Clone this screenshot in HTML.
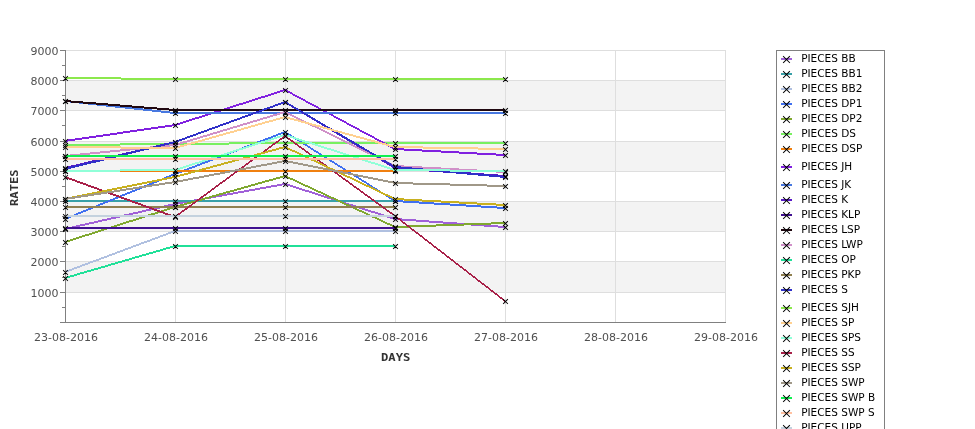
<!DOCTYPE html>
<html lang="en"><head><meta charset="utf-8"><title>Rates chart</title>
<style>
html,body{margin:0;padding:0;background:#fff;}
body{width:975px;height:429px;overflow:hidden;font-family:"DejaVu Sans","Liberation Sans",sans-serif;}
svg{display:block}
.tk{font:11px "DejaVu Sans","Liberation Sans",sans-serif;fill:#505050}
.lg{font:10.5px "DejaVu Sans","Liberation Sans",sans-serif;fill:#000}
.ax{font:bold 11px "DejaVu Sans Mono","Liberation Mono",monospace;fill:#333}
.mk{stroke:#000;stroke-width:1.05;fill:none;stroke-linecap:square}
</style></head><body>
<svg width="975" height="429" viewBox="0 0 975 429">
<rect width="975" height="429" fill="#fff"/>
<defs><clipPath id="pc"><rect x="66" y="40" width="660" height="290"/></clipPath></defs>
<rect x="65" y="80" width="661" height="30" fill="#f3f3f3"/>
<rect x="65" y="141" width="661" height="30" fill="#f3f3f3"/>
<rect x="65" y="201" width="661" height="30" fill="#f3f3f3"/>
<rect x="65" y="261" width="661" height="31" fill="#f3f3f3"/>
<g stroke="#dedede" stroke-width="1" shape-rendering="crispEdges">
<line x1="175.5" y1="50" x2="175.5" y2="322"/>
<line x1="285.5" y1="50" x2="285.5" y2="322"/>
<line x1="395.5" y1="50" x2="395.5" y2="322"/>
<line x1="505.5" y1="50" x2="505.5" y2="322"/>
<line x1="615.5" y1="50" x2="615.5" y2="322"/>
<line x1="725.5" y1="50" x2="725.5" y2="322"/>
<line x1="66" y1="292.5" x2="726" y2="292.5"/>
<line x1="66" y1="261.5" x2="726" y2="261.5"/>
<line x1="66" y1="231.5" x2="726" y2="231.5"/>
<line x1="66" y1="201.5" x2="726" y2="201.5"/>
<line x1="66" y1="171.5" x2="726" y2="171.5"/>
<line x1="66" y1="141.5" x2="726" y2="141.5"/>
<line x1="66" y1="110.5" x2="726" y2="110.5"/>
<line x1="66" y1="80.5" x2="726" y2="80.5"/>
<line x1="66" y1="50.5" x2="726" y2="50.5"/>
</g>
<g stroke="#808080" stroke-width="1" shape-rendering="crispEdges">
<line x1="65.5" y1="50" x2="65.5" y2="322"/>
<line x1="60" y1="322.5" x2="726" y2="322.5"/>
<line x1="60" y1="292.5" x2="65" y2="292.5"/>
<line x1="60" y1="261.5" x2="65" y2="261.5"/>
<line x1="60" y1="231.5" x2="65" y2="231.5"/>
<line x1="60" y1="201.5" x2="65" y2="201.5"/>
<line x1="60" y1="171.5" x2="65" y2="171.5"/>
<line x1="60" y1="141.5" x2="65" y2="141.5"/>
<line x1="60" y1="110.5" x2="65" y2="110.5"/>
<line x1="60" y1="80.5" x2="65" y2="80.5"/>
<line x1="60" y1="50.5" x2="65" y2="50.5"/>
<line x1="62" y1="307.5" x2="65" y2="307.5"/>
<line x1="62" y1="277.5" x2="65" y2="277.5"/>
<line x1="62" y1="246.5" x2="65" y2="246.5"/>
<line x1="62" y1="216.5" x2="65" y2="216.5"/>
<line x1="62" y1="186.5" x2="65" y2="186.5"/>
<line x1="62" y1="156.5" x2="65" y2="156.5"/>
<line x1="62" y1="125.5" x2="65" y2="125.5"/>
<line x1="62" y1="95.5" x2="65" y2="95.5"/>
<line x1="62" y1="65.5" x2="65" y2="65.5"/>
</g>
<g>
<polygon fill="#a060d8" clip-path="url(#pc)" shape-rendering="crispEdges" points="65,228 175,203 285,183 395,218 505,226 505,228 395,220 285,185 175,205 65,230"/>
<path class="mk" d="M63.5,227.5L67.5,231.5M63.5,231.5L67.5,227.5M173.5,202.5L177.5,206.5M173.5,206.5L177.5,202.5M283.5,182.5L287.5,186.5M283.5,186.5L287.5,182.5M393.5,217.5L397.5,221.5M393.5,221.5L397.5,217.5M503.5,225.5L507.5,229.5M503.5,229.5L507.5,225.5"/>
</g>
<g>
<polygon fill="#38a0a8" clip-path="url(#pc)" shape-rendering="crispEdges" points="65,200 175,200 285,200 395,200 395,202 285,202 175,202 65,202"/>
<path class="mk" d="M63.5,199.5L67.5,203.5M63.5,203.5L67.5,199.5M173.5,199.5L177.5,203.5M173.5,203.5L177.5,199.5M283.5,199.5L287.5,203.5M283.5,203.5L287.5,199.5M393.5,199.5L397.5,203.5M393.5,203.5L397.5,199.5"/>
</g>
<g>
<polygon fill="#b0c0e0" clip-path="url(#pc)" shape-rendering="crispEdges" points="65,271 175,230 285,230 395,230 395,232 285,232 175,232 65,273"/>
<path class="mk" d="M63.5,270.5L67.5,274.5M63.5,274.5L67.5,270.5M173.5,229.5L177.5,233.5M173.5,233.5L177.5,229.5M283.5,229.5L287.5,233.5M283.5,233.5L287.5,229.5M393.5,229.5L397.5,233.5M393.5,233.5L397.5,229.5"/>
</g>
<g>
<polygon fill="#4070f0" clip-path="url(#pc)" shape-rendering="crispEdges" points="65,218 175,173 285,131 395,200 505,207 505,209 395,202 285,133 175,175 65,220"/>
<path class="mk" d="M63.5,217.5L67.5,221.5M63.5,221.5L67.5,217.5M173.5,172.5L177.5,176.5M173.5,176.5L177.5,172.5M283.5,130.5L287.5,134.5M283.5,134.5L287.5,130.5M393.5,199.5L397.5,203.5M393.5,203.5L397.5,199.5M503.5,206.5L507.5,210.5M503.5,210.5L507.5,206.5"/>
</g>
<g>
<polygon fill="#80a830" clip-path="url(#pc)" shape-rendering="crispEdges" points="65,241 175,206 285,175 395,226 505,222 505,224 395,228 285,177 175,208 65,243"/>
<path class="mk" d="M63.5,240.5L67.5,244.5M63.5,244.5L67.5,240.5M173.5,205.5L177.5,209.5M173.5,209.5L177.5,205.5M283.5,174.5L287.5,178.5M283.5,178.5L287.5,174.5M393.5,225.5L397.5,229.5M393.5,229.5L397.5,225.5M503.5,221.5L507.5,225.5M503.5,225.5L507.5,221.5"/>
</g>
<g>
<polygon fill="#78f060" clip-path="url(#pc)" shape-rendering="crispEdges" points="65,144 175,143 285,142 395,142 505,142 505,144 395,144 285,144 175,145 65,146"/>
<path class="mk" d="M63.5,143.5L67.5,147.5M63.5,147.5L67.5,143.5M173.5,142.5L177.5,146.5M173.5,146.5L177.5,142.5M283.5,141.5L287.5,145.5M283.5,145.5L287.5,141.5M393.5,141.5L397.5,145.5M393.5,145.5L397.5,141.5M503.5,141.5L507.5,145.5M503.5,145.5L507.5,141.5"/>
</g>
<g>
<polygon fill="#f08010" clip-path="url(#pc)" shape-rendering="crispEdges" points="65,170 175,170 285,170 395,170 395,172 285,172 175,172 65,172"/>
<path class="mk" d="M63.5,169.5L67.5,173.5M63.5,173.5L67.5,169.5M173.5,169.5L177.5,173.5M173.5,173.5L177.5,169.5M283.5,169.5L287.5,173.5M283.5,173.5L287.5,169.5M393.5,169.5L397.5,173.5M393.5,173.5L397.5,169.5"/>
</g>
<g>
<polygon fill="#8020e0" clip-path="url(#pc)" shape-rendering="crispEdges" points="65,140 175,124 285,89 395,148 505,154 505,156 395,150 285,91 175,126 65,142"/>
<path class="mk" d="M63.5,139.5L67.5,143.5M63.5,143.5L67.5,139.5M173.5,123.5L177.5,127.5M173.5,127.5L177.5,123.5M283.5,88.5L287.5,92.5M283.5,92.5L287.5,88.5M393.5,147.5L397.5,151.5M393.5,151.5L397.5,147.5M503.5,153.5L507.5,157.5M503.5,157.5L507.5,153.5"/>
</g>
<g>
<polygon fill="#4878e0" clip-path="url(#pc)" shape-rendering="crispEdges" points="65,100 175,112 285,112 395,112 505,112 505,114 395,114 285,114 175,114 65,102"/>
<path class="mk" d="M63.5,99.5L67.5,103.5M63.5,103.5L67.5,99.5M173.5,111.5L177.5,115.5M173.5,115.5L177.5,111.5M283.5,111.5L287.5,115.5M283.5,115.5L287.5,111.5M393.5,111.5L397.5,115.5M393.5,115.5L397.5,111.5M503.5,111.5L507.5,115.5M503.5,115.5L507.5,111.5"/>
</g>
<g>
<polygon fill="#5818c8" clip-path="url(#pc)" shape-rendering="crispEdges" points="65,167 175,141 285,101 395,167 505,175 505,177 395,169 285,103 175,143 65,169"/>
<path class="mk" d="M63.5,166.5L67.5,170.5M63.5,170.5L67.5,166.5M173.5,140.5L177.5,144.5M173.5,144.5L177.5,140.5M283.5,100.5L287.5,104.5M283.5,104.5L287.5,100.5M393.5,166.5L397.5,170.5M393.5,170.5L397.5,166.5M503.5,174.5L507.5,178.5M503.5,178.5L507.5,174.5"/>
</g>
<g>
<polygon fill="#401090" clip-path="url(#pc)" shape-rendering="crispEdges" points="65,227 175,227 285,227 395,227 395,229 285,229 175,229 65,229"/>
<path class="mk" d="M63.5,226.5L67.5,230.5M63.5,230.5L67.5,226.5M173.5,226.5L177.5,230.5M173.5,230.5L177.5,226.5M283.5,226.5L287.5,230.5M283.5,230.5L287.5,226.5M393.5,226.5L397.5,230.5M393.5,230.5L397.5,226.5"/>
</g>
<g>
<polygon fill="#200810" clip-path="url(#pc)" shape-rendering="crispEdges" points="65,100 175,109 285,109 395,109 505,109 505,111 395,111 285,111 175,111 65,102"/>
<path class="mk" d="M63.5,99.5L67.5,103.5M63.5,103.5L67.5,99.5M173.5,108.5L177.5,112.5M173.5,112.5L177.5,108.5M283.5,108.5L287.5,112.5M283.5,112.5L287.5,108.5M393.5,108.5L397.5,112.5M393.5,112.5L397.5,108.5M503.5,108.5L507.5,112.5M503.5,112.5L507.5,108.5"/>
</g>
<g>
<polygon fill="#d090c8" clip-path="url(#pc)" shape-rendering="crispEdges" points="65,155 175,144 285,111 395,165 505,171 505,173 395,167 285,113 175,146 65,157"/>
<path class="mk" d="M63.5,154.5L67.5,158.5M63.5,158.5L67.5,154.5M173.5,143.5L177.5,147.5M173.5,147.5L177.5,143.5M283.5,110.5L287.5,114.5M283.5,114.5L287.5,110.5M393.5,164.5L397.5,168.5M393.5,168.5L397.5,164.5M503.5,170.5L507.5,174.5M503.5,174.5L507.5,170.5"/>
</g>
<g>
<polygon fill="#20e098" clip-path="url(#pc)" shape-rendering="crispEdges" points="65,277 175,245 285,245 395,245 395,247 285,247 175,247 65,279"/>
<path class="mk" d="M63.5,276.5L67.5,280.5M63.5,280.5L67.5,276.5M173.5,244.5L177.5,248.5M173.5,248.5L177.5,244.5M283.5,244.5L287.5,248.5M283.5,248.5L287.5,244.5M393.5,244.5L397.5,248.5M393.5,248.5L397.5,244.5"/>
</g>
<g>
<polygon fill="#908050" clip-path="url(#pc)" shape-rendering="crispEdges" points="65,206 175,206 285,206 395,206 395,208 285,208 175,208 65,208"/>
<path class="mk" d="M63.5,205.5L67.5,209.5M63.5,209.5L67.5,205.5M173.5,205.5L177.5,209.5M173.5,209.5L177.5,205.5M283.5,205.5L287.5,209.5M283.5,209.5L287.5,205.5M393.5,205.5L397.5,209.5M393.5,209.5L397.5,205.5"/>
</g>
<g>
<polygon fill="#3030c8" clip-path="url(#pc)" shape-rendering="crispEdges" points="65,168 175,141 285,101 395,166 505,176 505,178 395,168 285,103 175,143 65,170"/>
<path class="mk" d="M63.5,167.5L67.5,171.5M63.5,171.5L67.5,167.5M173.5,140.5L177.5,144.5M173.5,144.5L177.5,140.5M283.5,100.5L287.5,104.5M283.5,104.5L287.5,100.5M393.5,165.5L397.5,169.5M393.5,169.5L397.5,165.5M503.5,175.5L507.5,179.5M503.5,179.5L507.5,175.5"/>
</g>
<g>
<polygon fill="#8ce84c" clip-path="url(#pc)" shape-rendering="crispEdges" points="65,77 175,78 285,78 395,78 505,78 505,80 395,80 285,80 175,80 65,79"/>
<path class="mk" d="M63.5,76.5L67.5,80.5M63.5,80.5L67.5,76.5M173.5,77.5L177.5,81.5M173.5,81.5L177.5,77.5M283.5,77.5L287.5,81.5M283.5,81.5L287.5,77.5M393.5,77.5L397.5,81.5M393.5,81.5L397.5,77.5M503.5,77.5L507.5,81.5M503.5,81.5L507.5,77.5"/>
</g>
<g>
<polygon fill="#ffd090" clip-path="url(#pc)" shape-rendering="crispEdges" points="65,146 175,147 285,116 395,146 505,148 505,150 395,148 285,118 175,149 65,148"/>
<path class="mk" d="M63.5,145.5L67.5,149.5M63.5,149.5L67.5,145.5M173.5,146.5L177.5,150.5M173.5,150.5L177.5,146.5M283.5,115.5L287.5,119.5M283.5,119.5L287.5,115.5M393.5,145.5L397.5,149.5M393.5,149.5L397.5,145.5M503.5,147.5L507.5,151.5M503.5,151.5L507.5,147.5"/>
</g>
<g>
<polygon fill="#90ffd8" clip-path="url(#pc)" shape-rendering="crispEdges" points="65,170 175,169 285,134 395,169 505,170 505,172 395,171 285,136 175,171 65,172"/>
<path class="mk" d="M63.5,169.5L67.5,173.5M63.5,173.5L67.5,169.5M173.5,168.5L177.5,172.5M173.5,172.5L177.5,168.5M283.5,133.5L287.5,137.5M283.5,137.5L287.5,133.5M393.5,168.5L397.5,172.5M393.5,172.5L397.5,168.5M503.5,169.5L507.5,173.5M503.5,173.5L507.5,169.5"/>
</g>
<g>
<polygon fill="#a82048" clip-path="url(#pc)" shape-rendering="crispEdges" points="65,176 175,216 285,135 395,215 505,300 505,302 395,217 285,137 175,218 65,178"/>
<path class="mk" d="M63.5,175.5L67.5,179.5M63.5,179.5L67.5,175.5M173.5,215.5L177.5,219.5M173.5,219.5L177.5,215.5M283.5,134.5L287.5,138.5M283.5,138.5L287.5,134.5M393.5,214.5L397.5,218.5M393.5,218.5L397.5,214.5M503.5,299.5L507.5,303.5M503.5,303.5L507.5,299.5"/>
</g>
<g>
<polygon fill="#c8b020" clip-path="url(#pc)" shape-rendering="crispEdges" points="65,198 175,176 285,146 395,198 505,204 505,206 395,200 285,148 175,178 65,200"/>
<path class="mk" d="M63.5,197.5L67.5,201.5M63.5,201.5L67.5,197.5M173.5,175.5L177.5,179.5M173.5,179.5L177.5,175.5M283.5,145.5L287.5,149.5M283.5,149.5L287.5,145.5M393.5,197.5L397.5,201.5M393.5,201.5L397.5,197.5M503.5,203.5L507.5,207.5M503.5,207.5L507.5,203.5"/>
</g>
<g>
<polygon fill="#a09888" clip-path="url(#pc)" shape-rendering="crispEdges" points="65,198 175,181 285,160 395,182 505,185 505,187 395,184 285,162 175,183 65,200"/>
<path class="mk" d="M63.5,197.5L67.5,201.5M63.5,201.5L67.5,197.5M173.5,180.5L177.5,184.5M173.5,184.5L177.5,180.5M283.5,159.5L287.5,163.5M283.5,163.5L287.5,159.5M393.5,181.5L397.5,185.5M393.5,185.5L397.5,181.5M503.5,184.5L507.5,188.5M503.5,188.5L507.5,184.5"/>
</g>
<g>
<polygon fill="#10f050" clip-path="url(#pc)" shape-rendering="crispEdges" points="65,155 175,155 285,155 395,155 395,157 285,157 175,157 65,157"/>
<path class="mk" d="M63.5,154.5L67.5,158.5M63.5,158.5L67.5,154.5M173.5,154.5L177.5,158.5M173.5,158.5L177.5,154.5M283.5,154.5L287.5,158.5M283.5,158.5L287.5,154.5M393.5,154.5L397.5,158.5M393.5,158.5L397.5,154.5"/>
</g>
<g>
<polygon fill="#ffc0a0" clip-path="url(#pc)" shape-rendering="crispEdges" points="65,158 175,158 285,158 395,158 395,160 285,160 175,160 65,160"/>
<path class="mk" d="M63.5,157.5L67.5,161.5M63.5,161.5L67.5,157.5M173.5,157.5L177.5,161.5M173.5,161.5L177.5,157.5M283.5,157.5L287.5,161.5M283.5,161.5L287.5,157.5M393.5,157.5L397.5,161.5M393.5,161.5L397.5,157.5"/>
</g>
<g>
<polygon fill="#c4d2de" clip-path="url(#pc)" shape-rendering="crispEdges" points="65,215 175,215 285,215 395,215 395,217 285,217 175,217 65,217"/>
<path class="mk" d="M63.5,214.5L67.5,218.5M63.5,218.5L67.5,214.5M173.5,214.5L177.5,218.5M173.5,218.5L177.5,214.5M283.5,214.5L287.5,218.5M283.5,218.5L287.5,214.5M393.5,214.5L397.5,218.5M393.5,218.5L397.5,214.5"/>
</g>
<g class="tk" text-anchor="end">
<text x="58.5" y="297">1000</text>
<text x="58.5" y="266">2000</text>
<text x="58.5" y="236">3000</text>
<text x="58.5" y="206">4000</text>
<text x="58.5" y="176">5000</text>
<text x="58.5" y="146">6000</text>
<text x="58.5" y="115">7000</text>
<text x="58.5" y="85">8000</text>
<text x="58.5" y="55">9000</text>
</g>
<g class="tk" text-anchor="middle">
<text x="66" y="341">23-08-2016</text>
<text x="176" y="341">24-08-2016</text>
<text x="286" y="341">25-08-2016</text>
<text x="396" y="341">26-08-2016</text>
<text x="506" y="341">27-08-2016</text>
<text x="616" y="341">28-08-2016</text>
<text x="726" y="341">29-08-2016</text>
</g>
<text class="ax" x="381" y="361" textLength="29.4" lengthAdjust="spacingAndGlyphs">DAYS</text>
<text class="ax" transform="translate(18,206) rotate(-90)" textLength="36.6" lengthAdjust="spacingAndGlyphs">RATES</text>
<rect x="776.5" y="50.5" width="108" height="400" fill="#fff" stroke="#808080" stroke-width="1" shape-rendering="crispEdges"/>
<rect x="781" y="58" width="11" height="2" fill="#a060d8"/>
<path class="mk" d="M783.5,56.5L789.5,62.5M783.5,62.5L789.5,56.5"/>
<text class="lg" x="801.2" y="62">PIECES BB</text>
<rect x="781" y="73" width="11" height="2" fill="#38a0a8"/>
<path class="mk" d="M783.5,71.5L789.5,77.5M783.5,77.5L789.5,71.5"/>
<text class="lg" x="801.2" y="77">PIECES BB1</text>
<rect x="781" y="88" width="11" height="2" fill="#b0c0e0"/>
<path class="mk" d="M783.5,86.5L789.5,92.5M783.5,92.5L789.5,86.5"/>
<text class="lg" x="801.2" y="92">PIECES BB2</text>
<rect x="781" y="103" width="11" height="2" fill="#4070f0"/>
<path class="mk" d="M783.5,101.5L789.5,107.5M783.5,107.5L789.5,101.5"/>
<text class="lg" x="801.2" y="107">PIECES DP1</text>
<rect x="781" y="118" width="11" height="2" fill="#80a830"/>
<path class="mk" d="M783.5,116.5L789.5,122.5M783.5,122.5L789.5,116.5"/>
<text class="lg" x="801.2" y="122">PIECES DP2</text>
<rect x="781" y="133" width="11" height="2" fill="#78f060"/>
<path class="mk" d="M783.5,131.5L789.5,137.5M783.5,137.5L789.5,131.5"/>
<text class="lg" x="801.2" y="137">PIECES DS</text>
<rect x="781" y="148" width="11" height="2" fill="#f08010"/>
<path class="mk" d="M783.5,146.5L789.5,152.5M783.5,152.5L789.5,146.5"/>
<text class="lg" x="801.2" y="152">PIECES DSP</text>
<rect x="781" y="166" width="11" height="2" fill="#8020e0"/>
<path class="mk" d="M783.5,164.5L789.5,170.5M783.5,170.5L789.5,164.5"/>
<text class="lg" x="801.2" y="170">PIECES JH</text>
<rect x="781" y="184" width="11" height="2" fill="#4878e0"/>
<path class="mk" d="M783.5,182.5L789.5,188.5M783.5,188.5L789.5,182.5"/>
<text class="lg" x="801.2" y="188">PIECES JK</text>
<rect x="781" y="199" width="11" height="2" fill="#5818c8"/>
<path class="mk" d="M783.5,197.5L789.5,203.5M783.5,203.5L789.5,197.5"/>
<text class="lg" x="801.2" y="203">PIECES K</text>
<rect x="781" y="214" width="11" height="2" fill="#401090"/>
<path class="mk" d="M783.5,212.5L789.5,218.5M783.5,218.5L789.5,212.5"/>
<text class="lg" x="801.2" y="218">PIECES KLP</text>
<rect x="781" y="229" width="11" height="2" fill="#200810"/>
<path class="mk" d="M783.5,227.5L789.5,233.5M783.5,233.5L789.5,227.5"/>
<text class="lg" x="801.2" y="233">PIECES LSP</text>
<rect x="781" y="244" width="11" height="2" fill="#d090c8"/>
<path class="mk" d="M783.5,242.5L789.5,248.5M783.5,248.5L789.5,242.5"/>
<text class="lg" x="801.2" y="248">PIECES LWP</text>
<rect x="781" y="259" width="11" height="2" fill="#20e098"/>
<path class="mk" d="M783.5,257.5L789.5,263.5M783.5,263.5L789.5,257.5"/>
<text class="lg" x="801.2" y="263">PIECES OP</text>
<rect x="781" y="274" width="11" height="2" fill="#908050"/>
<path class="mk" d="M783.5,272.5L789.5,278.5M783.5,278.5L789.5,272.5"/>
<text class="lg" x="801.2" y="278">PIECES PKP</text>
<rect x="781" y="289" width="11" height="2" fill="#3030c8"/>
<path class="mk" d="M783.5,287.5L789.5,293.5M783.5,293.5L789.5,287.5"/>
<text class="lg" x="801.2" y="293">PIECES S</text>
<rect x="781" y="307" width="11" height="2" fill="#8ce84c"/>
<path class="mk" d="M783.5,305.5L789.5,311.5M783.5,311.5L789.5,305.5"/>
<text class="lg" x="801.2" y="311">PIECES SJH</text>
<rect x="781" y="322" width="11" height="2" fill="#ffd090"/>
<path class="mk" d="M783.5,320.5L789.5,326.5M783.5,326.5L789.5,320.5"/>
<text class="lg" x="801.2" y="326">PIECES SP</text>
<rect x="781" y="337" width="11" height="2" fill="#90ffd8"/>
<path class="mk" d="M783.5,335.5L789.5,341.5M783.5,341.5L789.5,335.5"/>
<text class="lg" x="801.2" y="341">PIECES SPS</text>
<rect x="781" y="352" width="11" height="2" fill="#a82048"/>
<path class="mk" d="M783.5,350.5L789.5,356.5M783.5,356.5L789.5,350.5"/>
<text class="lg" x="801.2" y="356">PIECES SS</text>
<rect x="781" y="367" width="11" height="2" fill="#c8b020"/>
<path class="mk" d="M783.5,365.5L789.5,371.5M783.5,371.5L789.5,365.5"/>
<text class="lg" x="801.2" y="371">PIECES SSP</text>
<rect x="781" y="382" width="11" height="2" fill="#a09888"/>
<path class="mk" d="M783.5,380.5L789.5,386.5M783.5,386.5L789.5,380.5"/>
<text class="lg" x="801.2" y="386">PIECES SWP</text>
<rect x="781" y="397" width="11" height="2" fill="#10f050"/>
<path class="mk" d="M783.5,395.5L789.5,401.5M783.5,401.5L789.5,395.5"/>
<text class="lg" x="801.2" y="401">PIECES SWP B</text>
<rect x="781" y="412" width="11" height="2" fill="#ffc0a0"/>
<path class="mk" d="M783.5,410.5L789.5,416.5M783.5,416.5L789.5,410.5"/>
<text class="lg" x="801.2" y="416">PIECES SWP S</text>
<rect x="781" y="427" width="11" height="2" fill="#c4d2de"/>
<path class="mk" d="M783.5,425.5L789.5,431.5M783.5,431.5L789.5,425.5"/>
<text class="lg" x="801.2" y="431">PIECES UPP</text>
</svg>
</body></html>
